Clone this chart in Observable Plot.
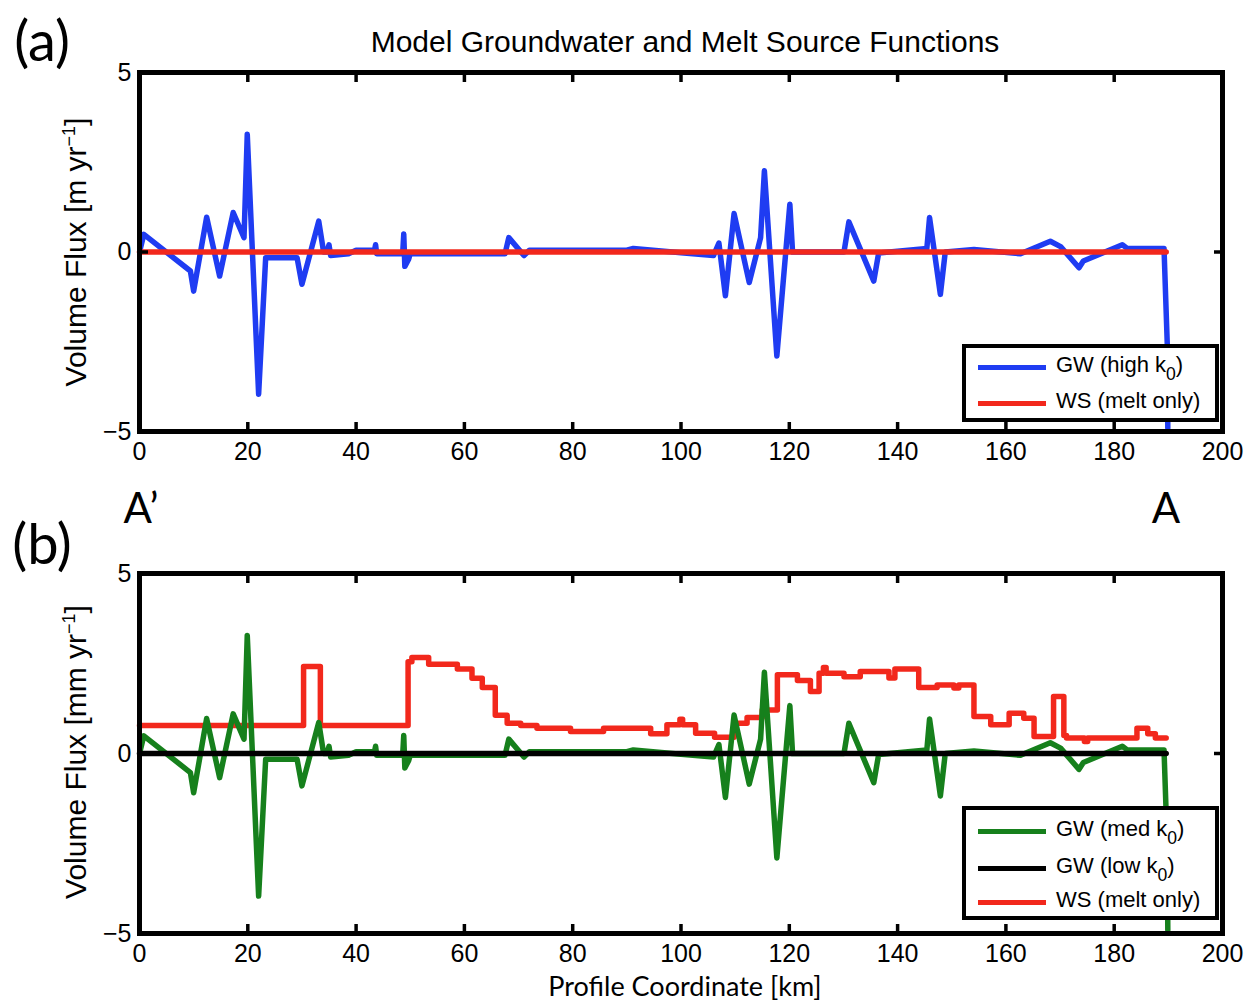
<!DOCTYPE html>
<html>
<head>
<meta charset="utf-8">
<script src="https://cdn.jsdelivr.net/npm/d3@7"></script>
<script src="https://cdn.jsdelivr.net/npm/@observablehq/plot@0.6"></script>
<style>
  html, body { margin: 0; padding: 0; background: #fff; }
  #page { position: relative; width: 1259px; height: 1003px; overflow: hidden; background: #fff; font-family: "Liberation Sans", Arial, sans-serif; color: #000; }
  .abs { position: absolute; white-space: nowrap; line-height: 1.2; }
  .panel { position: absolute; left: 0; }
  .legend { position: absolute; background: #fff; border: 4px solid #000; box-sizing: border-box; font-family: "Liberation Sans", Arial, sans-serif; font-size: 22px; }
  .legend .row { position: absolute; left: 0; height: 30px; }
  .legend .sw { position: absolute; left: 12px; width: 68px; height: 5px; top: 13px; }
  .legend .lbl { position: absolute; left: 90px; top: 2px; white-space: nowrap; line-height: 1; }
  .legend sub { font-size: 0.8em; position: relative; top: 0.15em; }
  sup { font-size: 0.6em; }
</style>
</head>
<body>
<div id="page"></div>
<script>
// ---- Data ----
// Profile coordinate [km] of groundwater source function vertices
const gwX = [0, 0.8, 9.4, 10, 12.4, 14.8, 17.3, 19.3, 19.9, 22.0, 23.3, 29.1, 30.0, 33.1, 34, 34.6, 35, 35.3, 38.6, 40, 43.4, 43.6, 43.8, 48.6, 48.8, 49.0, 49.7, 50, 67.5, 68.2, 71, 72, 80, 90, 91.2, 100, 106, 107, 108.2, 109.8, 112.6, 114.7, 115.4, 117.7, 120.1, 120.6, 130.1, 131, 135.6, 136.5, 145.4, 145.9, 147.9, 148.8, 154.1, 162.7, 168.2, 170.1, 173.5, 174.3, 181.5, 182.4, 189.2, 189.8, 189.9];
// GW (high k0) volume flux [m/yr]
const gwHigh = [0, 0.49, -0.53, -1.09, 0.97, -0.67, 1.1, 0.4, 3.28, -3.96, -0.16, -0.16, -0.9, 0.86, 0, 0, 0.2, -0.1, -0.05, 0.05, 0.05, 0.2, -0.05, -0.05, 0.5, -0.4, -0.2, -0.05, -0.05, 0.4, -0.1, 0.05, 0.05, 0.05, 0.1, -0.02, -0.1, 0.25, -1.22, 1.07, -0.85, 0.4, 2.26, -2.9, 1.33, 0, 0, 0.84, -0.81, -0.03, 0.1, 0.96, -1.18, 0, 0.07, -0.05, 0.3, 0.15, -0.44, -0.25, 0.2, 0.1, 0.1, -2.57, -4.9];
// GW (med k0) volume flux [mm/yr] (same shape as panel a)
const gwMed = [0, 0.49, -0.53, -1.09, 0.97, -0.67, 1.1, 0.4, 3.28, -3.96, -0.16, -0.16, -0.9, 0.86, 0, 0, 0.2, -0.1, -0.05, 0.05, 0.05, 0.2, -0.05, -0.05, 0.5, -0.4, -0.2, -0.05, -0.05, 0.4, -0.1, 0.05, 0.05, 0.05, 0.1, -0.02, -0.1, 0.25, -1.22, 1.07, -0.85, 0.4, 2.26, -2.9, 1.33, 0, 0, 0.84, -0.81, -0.03, 0.1, 0.96, -1.18, 0, 0.07, -0.05, 0.3, 0.15, -0.44, -0.25, 0.2, 0.1, 0.1, -2.57, -4.9];
// Flat series (WS melt only in panel a, GW low k0 in panel b)
const flatX = [0, 189.6];
const wsTopY = [0, 0];
const gwLowY = [0, 0];
// WS (melt only) step function in panel b [mm/yr]
const wsX = [0, 30.3, 33.4, 49.6, 50.3, 53.4, 58.7, 61.4, 63.3, 65.7, 67.9, 70.4, 73.4, 79.6, 85.7, 94.4, 97.4, 99.8, 100.3, 102.7, 106.2, 109.8, 112.2, 115, 117.8, 121.5, 123.9, 125.5, 126.3, 126.8, 130.1, 133.1, 138.4, 139.5, 143.9, 147.3, 150.4, 151.3, 154.1, 157.2, 160.6, 163.3, 165.2, 168.8, 170.7, 171.2, 174.5, 175.1, 184.2, 186.2, 187.6, 189.6];
const wsY = [0.78, 2.42, 0.78, 2.55, 2.67, 2.48, 2.35, 2.09, 1.83, 1.06, 0.84, 0.78, 0.7, 0.61, 0.7, 0.55, 0.8, 0.95, 0.8, 0.56, 0.45, 0.84, 1.0, 1.21, 2.19, 2.03, 1.72, 2.23, 2.39, 2.23, 2.13, 2.28, 2.1, 2.35, 1.83, 1.9, 1.82, 1.9, 1.03, 0.8, 1.12, 0.98, 0.47, 1.58, 0.5, 0.43, 0.33, 0.43, 0.7, 0.55, 0.43, 0.43];
const xTicks = [0, 20, 40, 60, 80, 100, 120, 140, 160, 180, 200];
const yTicks = [-5, 0, 5];

const BLUE = "#1f3cf2", RED = "#f2281c", GREEN = "#16801c", BLACK = "#000";

const zip = (xs, ys) => xs.map((x, i) => ({x, y: ys[i]}));

function axes() {
  return [
    Plot.axisX({anchor: "bottom", ticks: xTicks, tickSize: -9, tickPadding: 20, strokeWidth: 3.5, label: null}),
    Plot.axisX({anchor: "top", ticks: xTicks, tickSize: -9, strokeWidth: 3.5, tickFormat: () => "", label: null}),
    Plot.axisY({anchor: "left", ticks: yTicks, tickSize: -9, tickPadding: 17, strokeWidth: 3.5, label: null}),
    Plot.axisY({anchor: "right", ticks: yTicks, tickSize: -9, strokeWidth: 3.5, tickFormat: () => "", label: null}),
    Plot.frame({stroke: "#000", strokeWidth: 5})
  ];
}

function panel(height, mt, mb, marks) {
  return Plot.plot({
    width: 1259, height,
    marginTop: mt, marginBottom: mb, marginLeft: 139, marginRight: 37,
    x: {domain: [0, 200]},
    y: {domain: [-5, 5]},
    style: {fontFamily: "'Liberation Sans', Arial, sans-serif", fontSize: "25px", color: "#000", background: "transparent", overflow: "visible"},
    marks: [...marks, ...axes()]
  });
}

const page = document.getElementById("page");

const svgA = panel(480, 72, 49, [
  Plot.line(zip(gwX, gwHigh), {x: "x", y: "y", stroke: BLUE, strokeWidth: 5.5, clip: true}),
  Plot.line(zip(flatX, wsTopY), {x: "x", y: "y", stroke: RED, strokeWidth: 5.5})
]);
const divA = document.createElement("div");
divA.className = "panel"; divA.style.top = "0px";
divA.appendChild(svgA); page.appendChild(divA);

const svgB = panel(513, 83, 70, [
  Plot.line(zip(wsX, wsY), {x: "x", y: "y", stroke: RED, strokeWidth: 5.5, curve: "step-after"}),
  Plot.line(zip(gwX, gwMed), {x: "x", y: "y", stroke: GREEN, strokeWidth: 5.5, clip: true}),
  Plot.line(zip(flatX, gwLowY), {x: "x", y: "y", stroke: BLACK, strokeWidth: 5.5})
]);
const divB = document.createElement("div");
divB.className = "panel"; divB.style.top = "490px";
divB.appendChild(svgB); page.appendChild(divB);

function addText(html, css) {
  const d = document.createElement("div");
  d.className = "abs";
  d.innerHTML = html;
  Object.assign(d.style, css);
  page.appendChild(d);
  return d;
}

addText("(a)", {left: "42px", top: "40px", fontFamily: "Lato, sans-serif", fontSize: "56px", transform: "translate(-50%,-50%)"});
addText("(b)", {left: "42px", top: "543px", fontFamily: "Lato, sans-serif", fontSize: "56px", transform: "translate(-50%,-50%)"});
addText("Model Groundwater and Melt Source Functions", {left: "685px", top: "42px", fontSize: "30px", transform: "translate(-50%,-50%)"});
addText("Volume Flux [m yr<sup>−1</sup>]", {left: "76px", top: "252px", fontSize: "30px", transform: "translate(-50%,-50%) rotate(-90deg)"});
addText("Volume Flux [mm yr<sup>−1</sup>]", {left: "76px", top: "752px", fontSize: "30px", transform: "translate(-50%,-50%) rotate(-90deg)"});
addText("A’", {left: "141px", top: "507px", fontFamily: "Lato, sans-serif", fontSize: "42px", transform: "translate(-50%,-50%)"});
addText("A", {left: "1166px", top: "507px", fontFamily: "Lato, sans-serif", fontSize: "42px", transform: "translate(-50%,-50%)"});
addText("Profile Coordinate [km]", {left: "685px", top: "985px", fontFamily: "Lato, sans-serif", fontSize: "27px", lineHeight: "1", transform: "translate(-50%,-50%)"});

function addLegend(left, top, width, height, rows, rowTops) {
  const box = document.createElement("div");
  box.className = "legend";
  Object.assign(box.style, {left: left + "px", top: top + "px", width: width + "px", height: height + "px"});
  rows.forEach((r, i) => {
    const row = document.createElement("div");
    row.className = "row";
    row.style.top = rowTops[i] + "px";
    row.style.width = "100%";
    row.innerHTML = `<div class="sw" style="background:${r.color}"></div><div class="lbl">${r.label}</div>`;
    box.appendChild(row);
  });
  page.appendChild(box);
}

addLegend(962, 344, 257, 78, [
  {color: BLUE, label: "GW (high k<sub>0</sub>)"},
  {color: RED, label: "WS (melt only)"}
], [4, 40]);

addLegend(962, 806, 257, 114, [
  {color: GREEN, label: "GW (med k<sub>0</sub>)"},
  {color: BLACK, label: "GW (low k<sub>0</sub>)"},
  {color: RED, label: "WS (melt only)"}
], [6, 43, 77]);
</script>
</body>
</html>
